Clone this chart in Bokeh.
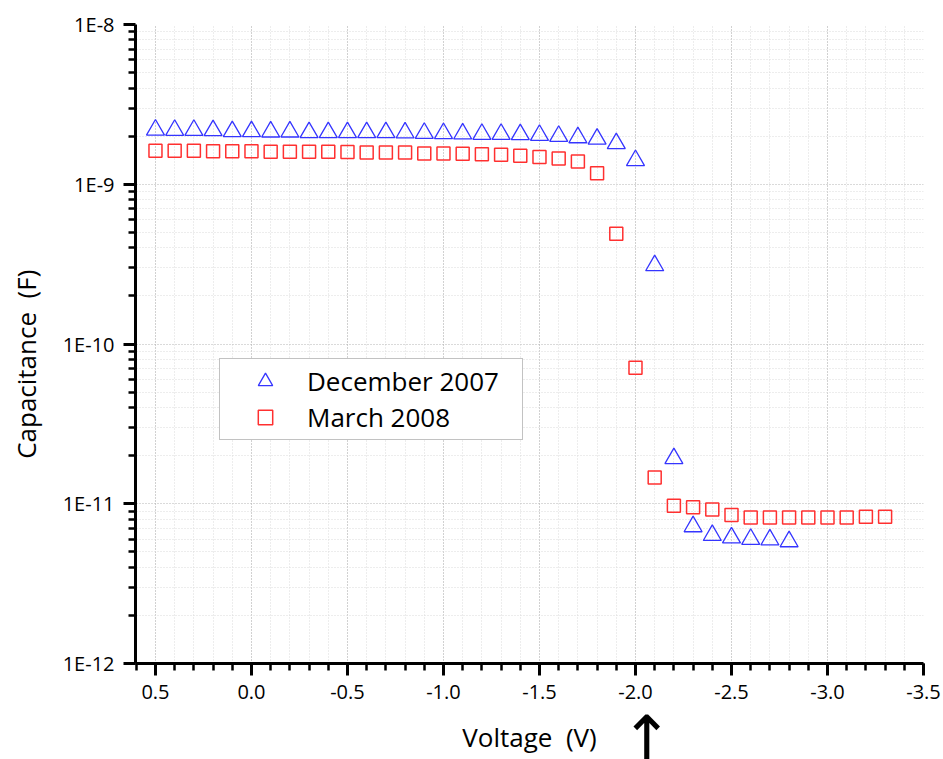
from bokeh.plotting import figure
from bokeh.models import (Range1d, FixedTicker, PrintfTickFormatter, CustomJSTickFormatter,
                          Legend, LegendItem, LinearAxis)
from bokeh.embed import file_html
from bokeh.resources import INLINE

# ---- data ----
voltage_dec = [0.5, 0.4, 0.3, 0.2, 0.1, 0.0, -0.1, -0.2, -0.3, -0.4,
               -0.5, -0.6, -0.7, -0.8, -0.9, -1.0, -1.1, -1.2, -1.3, -1.4,
               -1.5, -1.6, -1.7, -1.8, -1.9, -2.0, -2.1, -2.2, -2.3, -2.4,
               -2.5, -2.6, -2.7, -2.8]
cap_dec = [2.19e-9, 2.18e-9, 2.18e-9, 2.17e-9, 2.14e-9, 2.14e-9, 2.13e-9, 2.13e-9, 2.11e-9, 2.11e-9,
           2.11e-9, 2.11e-9, 2.11e-9, 2.10e-9, 2.09e-9, 2.08e-9, 2.07e-9, 2.06e-9, 2.06e-9, 2.05e-9,
           2.03e-9, 2.00e-9, 1.96e-9, 1.92e-9, 1.80e-9, 1.41e-9, 3.1e-10, 1.92e-11, 7.2e-12, 6.35e-12,
           6.13e-12, 6.0e-12, 5.95e-12, 5.8e-12]

voltage_mar = [0.5, 0.4, 0.3, 0.2, 0.1, 0.0, -0.1, -0.2, -0.3, -0.4,
               -0.5, -0.6, -0.7, -0.8, -0.9, -1.0, -1.1, -1.2, -1.3, -1.4,
               -1.5, -1.6, -1.7, -1.8, -1.9, -2.0, -2.1, -2.2, -2.3, -2.4,
               -2.5, -2.6, -2.7, -2.8, -2.9, -3.0, -3.1, -3.2, -3.3]
cap_mar = [1.62e-9, 1.62e-9, 1.62e-9, 1.61e-9, 1.61e-9, 1.61e-9, 1.60e-9, 1.60e-9, 1.60e-9, 1.60e-9,
           1.59e-9, 1.58e-9, 1.58e-9, 1.58e-9, 1.56e-9, 1.56e-9, 1.55e-9, 1.54e-9, 1.53e-9, 1.51e-9,
           1.48e-9, 1.45e-9, 1.39e-9, 1.17e-9, 4.9e-10, 7.1e-11, 1.46e-11, 9.7e-12, 9.5e-12, 9.2e-12,
           8.5e-12, 8.2e-12, 8.2e-12, 8.2e-12, 8.2e-12, 8.2e-12, 8.2e-12, 8.3e-12, 8.3e-12]

series_labels = ["December 2007", "March 2008"]

x_major_ticks = [0.5, 0.0, -0.5, -1.0, -1.5, -2.0, -2.5, -3.0, -3.5]
x_minor_ticks = [round(0.6 - 0.1 * i, 1) for i in range(42)]
y_major_ticks = [1e-12, 1e-11, 1e-10, 1e-9, 1e-8]
y_minor_ticks = [m * 10.0 ** e for e in range(-12, -8) for m in range(2, 10)]

# voltage marked by the up-arrow under the x axis
arrow_voltage = [-2.06]

FONT = "Open Sans"

p = figure(width=943, height=759,
           x_range=Range1d(0.604, -3.5), y_range=Range1d(1e-12, 1e-8),
           y_axis_type="log", output_backend="svg", toolbar_location=None,
           min_border_left=135, min_border_right=20, min_border_top=24, min_border_bottom=96)
p.outline_line_color = None
p.background_fill_color = "white"
p.border_fill_color = "white"

xt = FixedTicker(ticks=x_major_ticks, minor_ticks=x_minor_ticks)
yt = FixedTicker(ticks=y_major_ticks, minor_ticks=y_minor_ticks)
p.xaxis.ticker = xt
p.yaxis.ticker = yt
p.xgrid.ticker = xt
p.ygrid.ticker = yt
p.xaxis.formatter = PrintfTickFormatter(format="%.1f")
p.yaxis.formatter = CustomJSTickFormatter(code="return '1E' + Math.round(Math.log10(tick));")

for g in (p.xgrid[0], p.ygrid[0]):
    g.grid_line_color = "#b4b4b4"
    g.grid_line_dash = "1 2"
    g.grid_line_width = 1
    g.minor_grid_line_color = "#dadada"
    g.minor_grid_line_dash = "1 2"
    g.minor_grid_line_width = 1

for ax in (p.xaxis[0], p.yaxis[0]):
    ax.axis_line_width = 3
    ax.axis_line_color = "black"
    ax.major_tick_line_width = 3
    ax.minor_tick_line_width = 2.5
    ax.major_tick_line_color = "black"
    ax.minor_tick_line_color = "black"
    ax.major_tick_out = 12
    ax.major_tick_in = 0
    ax.minor_tick_out = 7
    ax.minor_tick_in = 0
    ax.major_label_text_font = FONT
    ax.major_label_text_font_size = "20px"
    ax.major_label_text_color = "black"
    ax.major_label_standoff = 9
    ax.axis_label_text_font = FONT
    ax.axis_label_text_font_size = "26px"
    ax.axis_label_text_font_style = "normal"
    ax.axis_label_text_color = "black"

p.yaxis.axis_label = "Capacitance\u00a0 (F)" + "\u00a0" * 6
p.yaxis.axis_label_standoff = 16

# second bottom axis: carries the arrow (as its only tick label) and the x title
arrow_axis = LinearAxis(ticker=FixedTicker(ticks=arrow_voltage),
                        formatter=CustomJSTickFormatter(code="return '\u2191';"),
                        axis_line_color=None, major_tick_line_color=None,
                        minor_tick_line_color=None, major_tick_out=0, major_tick_in=0,
                        minor_tick_out=0, minor_tick_in=0,
                        major_label_text_font="DejaVu Sans", major_label_text_font_size="62px",
                        major_label_text_color="black", major_label_standoff=0,
                        axis_label="Voltage\u00a0\u00a0(V)", axis_label_text_font=FONT,
                        axis_label_text_font_size="26px", axis_label_text_font_style="normal",
                        axis_label_text_color="black", axis_label_standoff=-59)
p.add_layout(arrow_axis, "below")

r1 = p.scatter(voltage_dec, cap_dec, marker="triangle", size=18,
               fill_color=None, line_color="#3535ff", line_width=1.3)
r2 = p.scatter(voltage_mar, cap_mar, marker="square", size=13,
               fill_color=None, line_color="#ff3030", line_width=1.5)

legend = Legend(items=[LegendItem(label=series_labels[0], renderers=[r1]),
                       LegendItem(label=series_labels[1], renderers=[r2])],
                location=(84, 223),
                border_line_color="#858585", border_line_width=1.5,
                background_fill_color="white", background_fill_alpha=1.0,
                label_text_font=FONT, label_text_font_size="26px", label_text_color="black",
                glyph_height=36, glyph_width=82, label_height=36, label_width=211,
                label_standoff=1, padding=4, spacing=0, margin=0)
p.add_layout(legend)

open("out.html", "w").write(file_html(p, INLINE))
